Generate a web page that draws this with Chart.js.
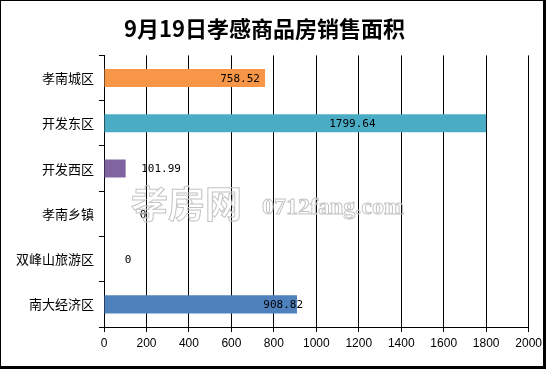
<!DOCTYPE html>
<html>
<head>
<meta charset="utf-8">
<script src="https://cdn.jsdelivr.net/npm/chart.js@4/dist/chart.umd.min.js"></script>
<style>
  html, body { margin: 0; padding: 0; background: #fff; }
  canvas { display: block; }
</style>
</head>
<body>
<canvas id="areaChart" width="546" height="369"></canvas>
<script>
// 9月19日 孝感 各区商品房销售面积
const districts = ['孝南城区', '开发东区', '开发西区', '孝南乡镇', '双峰山旅游区', '南大经济区'];
const areas = [758.52, 1799.64, 101.99, 0, 0, 908.82];
const barColors = ['#F79646', '#4BACC6', '#8064A2', '#4F81BD', '#4F81BD', '#4F81BD'];
const xTicks = [0, 200, 400, 600, 800, 1000, 1200, 1400, 1600, 1800, 2000];
// where each value label sits, in axis units (labels were moved by hand in the original)
const labelAt = [641, 1170, 269, 184, 113, 844];

const valueLabels = {
  id: 'valueLabels',
  afterDatasetsDraw(chart) {
    const ctx = chart.ctx;
    const x = chart.scales.x;
    const meta = chart.getDatasetMeta(0);
    ctx.save();
    ctx.font = '11px "DejaVu Sans Mono", monospace';
    ctx.fillStyle = '#000';
    ctx.textAlign = 'center';
    ctx.textBaseline = 'middle';
    meta.data.forEach((bar, i) => {
      ctx.fillText(String(areas[i]), x.getPixelForValue(labelAt[i]), bar.y + 1);
    });
    ctx.restore();
  }
};

// 水印 + 外框
const frame = {
  id: 'frame',
  afterDraw(chart) {
    const ctx = chart.ctx;
    const w = chart.width, h = chart.height;
    ctx.save();
    ctx.strokeStyle = '#c4c4c4';
    ctx.lineWidth = 1;
    ctx.textBaseline = 'alphabetic';
    ctx.textAlign = 'left';
    ctx.font = 'bold 37px "Noto Sans CJK SC"';
    ctx.strokeText('孝房网', 131, 218);
    ctx.font = 'bold 24px "Liberation Serif"';
    ctx.strokeText('0712fang.com', 262, 214);

    ctx.fillStyle = '#000';
    ctx.fillRect(0, 0, w, 1);
    ctx.fillRect(0, 0, 1, h);
    ctx.fillRect(w - 3, 0, 3, h);
    ctx.fillRect(0, h - 3, w, 3);
    ctx.restore();
  }
};

new Chart(document.getElementById('areaChart'), {
  type: 'bar',
  data: {
    labels: districts,
    datasets: [{
      data: areas,
      backgroundColor: barColors,
      borderWidth: 0,
      barPercentage: 0.4,
      categoryPercentage: 1
    }]
  },
  options: {
    indexAxis: 'y',
    responsive: false,
    animation: false,
    layout: { padding: { left: 0, right: 17, top: 0, bottom: 0 } },
    plugins: {
      legend: { display: false },
      tooltip: { enabled: false },
      title: {
        display: true,
        text: '9月19日孝感商品房销售面积',
        color: '#000',
        font: { family: '"Noto Sans CJK SC"', size: 22, weight: 'bold', lineHeight: 1.2 },
        padding: { top: 15, bottom: 14 }
      }
    },
    scales: {
      x: {
        min: 0,
        max: 2000,
        afterBuildTicks(axis) { axis.ticks = xTicks.map(v => ({ value: v })); },
        afterFit(axis) { axis.height = 42; },
        grid: { color: '#000', lineWidth: 1, tickLength: 5, drawTicks: true },
        border: { color: '#000', width: 1 },
        ticks: {
          color: '#000',
          padding: 4,
          maxRotation: 0,
          callback: v => String(v),
          font: { family: '"Liberation Sans"', size: 12 }
        }
      },
      y: {
        afterFit(axis) { axis.width = 104; },
        grid: { offset: true, drawOnChartArea: false, color: '#000', tickLength: 5 },
        border: { color: '#000', width: 1 },
        ticks: {
          color: '#000',
          padding: 5,
          font: { family: '"Noto Sans CJK SC"', size: 13 }
        }
      }
    }
  },
  plugins: [valueLabels, frame]
});
</script>
</body>
</html>
